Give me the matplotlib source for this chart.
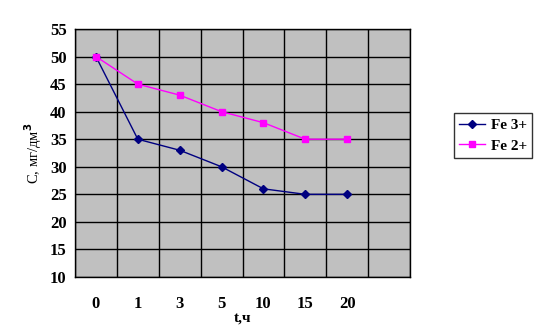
import matplotlib.pyplot as plt
import numpy as np

# time categories (hours) and concentrations, mg/dm3
t_labels = ['0', '1', '3', '5', '10', '15', '20']
fe3 = [50, 35, 33, 30, 26, 25, 25]
fe2 = [50, 45, 43, 40, 38, 35, 35]

plt.rcParams['font.family'] = ['Liberation Serif', 'DejaVu Serif']
plt.rcParams['font.weight'] = 'bold'

fig = plt.figure(figsize=(5.37, 3.35), dpi=100)
ax = fig.add_axes([75 / 537, 1 - 277 / 335, 335 / 537, 248 / 335])
ax.set_facecolor('#c0c0c0')

x = np.arange(len(t_labels))
ax.plot(x, fe3, color='#000080', lw=1, marker='D', ms=4.5, label='Fe 3+')
ax.plot(x, fe2, color='#ff00ff', lw=1, marker='s', ms=5, label='Fe 2+')

# 8 category slots, last one empty
ax.set_xlim(-0.5, 7.5)
ax.set_ylim(10, 55)
ax.set_xticks(x)
ax.set_xticklabels(t_labels)
ax.set_xticks(np.arange(-0.5, 8, 1), minor=True)
ax.set_yticks(np.arange(10, 56, 5))
ax.grid(True, which='minor', axis='x', color='black', lw=1)
ax.grid(True, which='major', axis='y', color='black', lw=1)
ax.tick_params(axis='x', which='both', length=0, pad=14, labelsize=12)
ax.tick_params(axis='y', length=0, pad=6, labelsize=12)
for sp in ax.spines.values():
    sp.set_color('black')
    sp.set_linewidth(1)
ax.set_axisbelow(True)

ax.set_xlabel('t,ч', fontsize=11, fontweight='bold', labelpad=-1)
ax.set_ylabel('C, мг/дм$^3$', fontsize=10.5, fontweight='normal', labelpad=4)

leg = fig.legend(loc='upper left', bbox_to_anchor=(454 / 537, 1 - 113 / 335),
                 frameon=True, fancybox=False, fontsize=11, handlelength=1.7,
                 borderpad=0.35, labelspacing=0.45, handletextpad=0.35,
                 borderaxespad=0)
leg.get_frame().set_edgecolor('black')
leg.get_frame().set_linewidth(1)

plt.savefig('out.png', dpi=100)
